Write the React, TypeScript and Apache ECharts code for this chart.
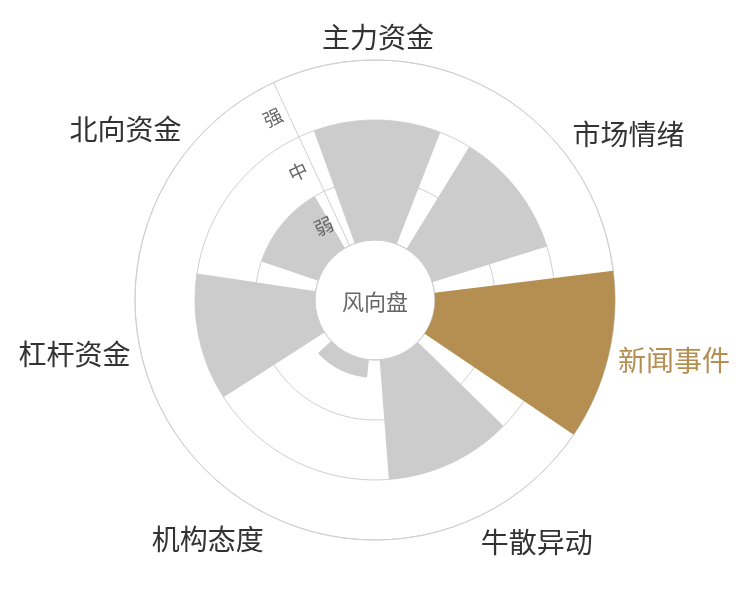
import { useEffect, useRef } from 'react';
import * as echarts from 'echarts';

// 风向盘数据
const categories = ['主力资金', '市场情绪', '新闻事件', '牛散异动', '机构态度', '杠杆资金', '北向资金'];
const levels = ['弱', '中', '强'];
const strength = [2, 2, 3, 2, 0.3, 2, 1];
const highlight = '新闻事件';

const GOLD = '#b58f52';
const GRAY = '#cccccc';
const LINE = '#cfcfcf';

const App = () => {
  const chartDom = useRef<HTMLDivElement>(null);

  useEffect(() => {
    const chart = echarts.init(chartDom.current, null, { renderer: 'svg' });

    const option = {
      animation: false,
      textStyle: { fontFamily: 'Noto Sans CJK SC' },
      title: {
        text: '风向盘',
        left: 'center',
        top: 'middle',
        textStyle: { fontSize: 22, fontWeight: 'normal', color: '#666' },
      },
      polar: [
        { center: ['50%', '50%'], radius: ['20%', '80%'] },
        { center: ['50%', '50%'], radius: ['20%', '80%'] },
      ],
      angleAxis: [
        {
          polarIndex: 0,
          type: 'category',
          data: categories.map((c) => (c === highlight ? { value: c, textStyle: { color: GOLD } } : c)),
          startAngle: 115,
          clockwise: true,
          axisLine: { lineStyle: { color: LINE } },
          axisTick: { show: false },
          axisLabel: { fontSize: 28, color: '#333', margin: 10 },
          splitLine: { show: false },
        },
        {
          polarIndex: 1,
          type: 'category',
          data: categories,
          startAngle: 115,
          show: false,
        },
      ],
      radiusAxis: [
        {
          polarIndex: 0,
          type: 'value',
          min: 0,
          max: 3,
          interval: 1,
          axisLine: { show: false },
          axisTick: { show: false },
          axisLabel: { show: false },
          splitLine: { lineStyle: { color: LINE } },
        },
        {
          polarIndex: 1,
          type: 'category',
          data: levels,
          z: 5,
          axisLine: { lineStyle: { color: LINE } },
          axisTick: { show: false },
          axisLabel: { rotate: 25, color: '#666', fontSize: 19, margin: 6 },
          splitLine: { show: false },
        },
      ],
      series: [
        {
          type: 'bar',
          coordinateSystem: 'polar',
          polarIndex: 0,
          barCategoryGap: '20%',
          data: strength.map((v, i) => ({
            value: v,
            itemStyle: { color: categories[i] === highlight ? GOLD : GRAY },
          })),
        },
      ],
    };

    chart.setOption(option);
    return () => {
      chart.dispose();
    };
  }, []);

  return (
    <div
      ref={chartDom}
      style={{ position: 'fixed', left: 0, top: 0, width: 750, height: 600 }}
    />
  );
};

export default App;
